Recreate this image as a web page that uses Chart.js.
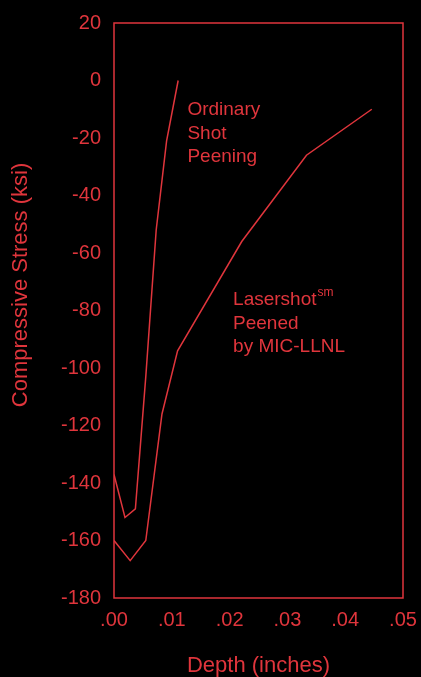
<!DOCTYPE html>
<html>
<head>
<meta charset="utf-8">
<script src="https://cdn.jsdelivr.net/npm/chart.js@4"></script>
<style>
  html, body { margin: 0; padding: 0; background: #000; }
  #wrap { width: 421px; height: 677px; }
</style>
</head>
<body>
<div id="wrap"><canvas id="stressChart" width="421" height="677"></canvas></div>
<script>
// depth (inches) / stress (ksi)
const ordinaryDepth = [0, 0.0019, 0.0037, 0.0055, 0.0073, 0.0091, 0.0111];
const ordinaryStress = [-137, -152, -149, -103, -52, -21, 0];

const laserDepth = [0, 0.0028, 0.0055, 0.0083, 0.0110, 0.0221, 0.0333, 0.0446];
const laserStress = [-160, -167, -160, -116, -94, -56, -26, -10];

const yTicks = [20, 0, -20, -40, -60, -80, -100, -120, -140, -160, -180];
const xTicks = [0, 0.01, 0.02, 0.03, 0.04, 0.05];

const ordinaryLabel = ["Ordinary", "Shot", "Peening"];
const laserLabel = ["Lasershot", "Peened", "by MIC-LLNL"];

const RED = "#e0353c";
const FONT = "'Liberation Sans', Arial, sans-serif";

function toPoints(xs, ys) {
  return xs.map((x, i) => ({ x: x, y: ys[i] }));
}

// frame, y title and the curve labels
const extras = {
  id: "extras",
  afterDraw(chart) {
    const { ctx, chartArea: a, scales } = chart;
    ctx.save();
    ctx.strokeStyle = RED;
    ctx.lineWidth = 1.5;
    ctx.strokeRect(a.left, a.top, a.right - a.left, a.bottom - a.top);

    ctx.fillStyle = RED;
    ctx.textBaseline = "alphabetic";
    ctx.textAlign = "left";

    // y axis title
    ctx.save();
    ctx.translate(27, 285);
    ctx.rotate(-Math.PI / 2);
    ctx.textAlign = "center";
    ctx.font = "22px " + FONT;
    ctx.fillText("Compressive Stress (ksi)", 0, 0);
    ctx.restore();

    ctx.font = "19px " + FONT;
    let x = scales.x.getPixelForValue(0.0127);
    let y = scales.y.getPixelForValue(-12);
    ordinaryLabel.forEach((t, i) => ctx.fillText(t, x, y + i * 23.5));

    x = scales.x.getPixelForValue(0.0206);
    y = scales.y.getPixelForValue(-78.1);
    laserLabel.forEach((t, i) => ctx.fillText(t, x, y + i * 23.5));
    const w = ctx.measureText(laserLabel[0]).width;
    ctx.font = "12px " + FONT;
    ctx.fillText("sm", x + w + 1, y - 9);
    ctx.restore();
  }
};

const ctx = document.getElementById("stressChart").getContext("2d");
const stressChart = new Chart(ctx, {
  type: "line",
  data: {
    datasets: [
      {
        label: "Ordinary Shot Peening",
        data: toPoints(ordinaryDepth, ordinaryStress),
        borderColor: RED,
        borderWidth: 1.5,
        pointRadius: 0,
        fill: false,
        tension: 0,
      },
      {
        label: "Lasershot Peened by MIC-LLNL",
        data: toPoints(laserDepth, laserStress),
        borderColor: RED,
        borderWidth: 1.5,
        pointRadius: 0,
        fill: false,
        tension: 0,
      },
    ],
  },
  options: {
    responsive: false,
    animation: false,
    layout: { padding: { top: 23, right: 18, left: 0, bottom: 0 } },
    plugins: { legend: { display: false }, tooltip: { enabled: false } },
    scales: {
      x: {
        type: "linear",
        min: 0,
        max: 0.05,
        afterFit(s) {
          s.height = 79;
          s.paddingLeft = 0;
          s.paddingRight = 0;
        },
        afterBuildTicks(s) { s.ticks = xTicks.map(v => ({ value: v })); },
        grid: { display: false, drawTicks: false },
        border: { display: false },
        ticks: {
          color: RED,
          padding: 10,
          maxRotation: 0,
          font: { family: FONT, size: 20 },
          callback: v => "." + String(Math.round(v * 100)).padStart(2, "0"),
        },
        title: {
          display: true,
          text: "Depth (inches)",
          color: RED,
          padding: { top: 0, bottom: -2 },
          font: { family: FONT, size: 22 },
        },
      },
      y: {
        min: -180,
        max: 20,
        afterFit(s) {
          s.width = 114;
          s.paddingTop = 0;
          s.paddingBottom = 0;
        },
        afterBuildTicks(s) { s.ticks = yTicks.map(v => ({ value: v })); },
        grid: { display: false, drawTicks: false },
        border: { display: false },
        ticks: {
          color: RED,
          padding: 13,
          font: { family: FONT, size: 20 },
        },
      },
    },
  },
  plugins: [extras],
});
</script>
</body>
</html>
